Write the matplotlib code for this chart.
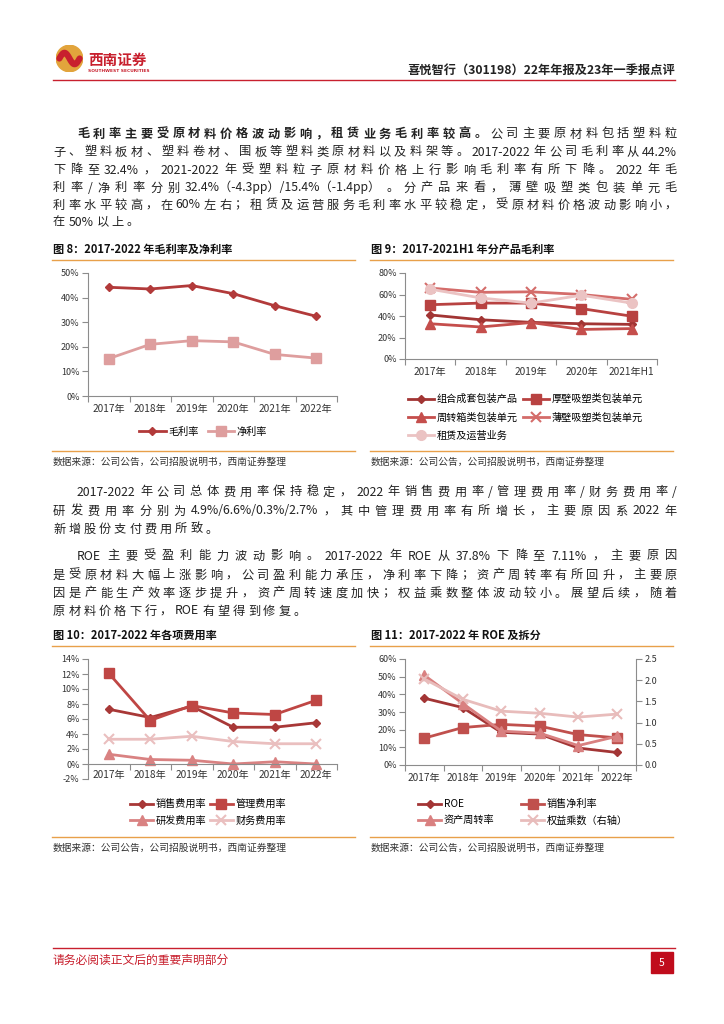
import matplotlib
matplotlib.use('Agg')
import matplotlib.pyplot as plt
import numpy as np
from matplotlib.patches import Rectangle, Circle

plt.rcParams['font.family'] = ['Noto Sans CJK SC', 'DejaVu Sans']
plt.rcParams['axes.unicode_minus'] = False

# ---- data ----
years6 = ['2017年', '2018年', '2019年', '2020年', '2021年', '2022年']
gross_margin = [44.2, 43.5, 44.9, 41.6, 36.7, 32.4]
net_margin = [15.2, 21.0, 22.5, 22.0, 16.9, 15.4]

years9 = ['2017年', '2018年', '2019年', '2020年', '2021年H1']
combo_pack = [41.0, 36.5, 34.1, 32.8, 32.2]
thick_pack = [50.5, 52.0, 52.0, 46.9, 39.8]
box_pack = [32.8, 29.8, 33.9, 27.5, 28.3]
thin_pack = [66.0, 62.0, 62.5, 60.0, 55.5]
lease_ops = [65.0, 56.8, 52.0, 59.3, 52.0]

sales_exp = [7.3, 6.2, 7.7, 4.9, 4.9, 5.5]
admin_exp = [12.1, 5.8, 7.8, 6.8, 6.6, 8.5]
rd_exp = [1.3, 0.6, 0.5, 0.0, 0.3, 0.0]
fin_exp = [3.3, 3.3, 3.7, 3.0, 2.7, 2.7]

roe = [37.8, 32.5, 18.5, 17.5, 9.6, 7.1]
net_margin_roe = [15.2, 21.2, 23.0, 22.0, 17.2, 15.4]
asset_turnover = [50.8, 34.8, 19.2, 18.0, 11.0, 16.2]
equity_mult = [2.03, 1.55, 1.27, 1.22, 1.13, 1.20]

# ---- page setup ----
W, H = 724, 1024
fig = plt.figure(figsize=(W / 100, H / 100), dpi=100)
renderer = fig.canvas.get_renderer()

RED = '#C8202E'
ORANGE = '#E8A04A'


def fx(x):
    return x / W


def fy(y):
    return 1 - y / H


def box(l, t, r, b):
    return [fx(l), fy(b), (r - l) / W, (b - t) / H]


def hline(x0, x1, y, color, lw):
    fig.add_artist(plt.Line2D([fx(x0), fx(x1)], [fy(y), fy(y)], color=color, lw=lw))


def is_wide(c):
    # fullwidth brackets stick to the numbers next to them
    return ord(c) > 0x2E7F and c not in '（）'


def tokens(segs):
    out = []
    for s, w in segs:
        buf = ''
        for c in s:
            if c == ' ':
                if buf:
                    out.append((buf, w))
                    buf = ''
            elif is_wide(c):
                if buf:
                    out.append((buf, w))
                    buf = ''
                out.append((c, w))
            else:
                buf += c
        if buf:
            out.append((buf, w))
    return out


def text_line(x0, y, segs, x1=None, size=8.8, color='#222', gap=3.0):
    toks = tokens(segs)
    objs = [fig.text(0, fy(y + 4.5), t, fontsize=size, fontweight=w, color=color,
                     va='baseline', ha='left') for t, w in toks]
    widths = [o.get_window_extent(renderer).width for o in objs]
    if x1 is not None and len(objs) > 1:
        gap = (x1 - x0 - sum(widths)) / (len(objs) - 1)
    x = x0
    for o, wd in zip(objs, widths):
        o.set_x(fx(x))
        x += wd + gap


# ---- header ----
logo = fig.add_axes(box(56, 45, 83, 72))
logo.set_xlim(-1, 1)
logo.set_ylim(-1, 1)
logo.set_aspect('equal')
logo.axis('off')
logo.add_patch(Circle((0, 0), 0.98, color='#E2A43C'))
t = np.linspace(-0.75, 0.75, 60)
logo.plot(t, 0.42 * np.sin(-np.pi * t / 0.75), color='#C8202E', lw=4.5,
          solid_capstyle='round')
fig.text(fx(88), fy(60), '西南证券', fontsize=10.5, fontweight='bold', color='#C8202E',
         va='center', ha='left')
fig.text(fx(88), fy(70.5), 'SOUTHWEST SECURITIES', fontsize=3.2, fontweight='bold',
         color='#C8202E', va='center', ha='left', family='DejaVu Sans')
fig.text(fx(675), fy(70), '喜悦智行（301198）22年年报及23年一季报点评', fontsize=8.8,
         fontweight='bold', color='#222', va='center', ha='right')
hline(53, 675, 80, RED, 1.0)

# ---- paragraph 1 ----
L, R = 53, 677
text_line(77, 133, [('毛利率主要受原材料价格波动影响，租赁业务毛利率较高。', 'bold'),
                    ('公司主要原材料包括塑料粒', 'normal')], R)
text_line(L, 151, [('子、塑料板材、塑料卷材、围板等塑料类原材料以及料架等。2017-2022年公司毛利率从44.2%', 'normal')], R)
text_line(L, 169, [('下降至 32.4%，2021-2022 年受塑料粒子原材料价格上行影响毛利率有所下降。2022 年毛', 'normal')], R)
text_line(L, 187, [('利率/净利率分别 32.4%（-4.3pp）/15.4%（-1.4pp）。分产品来看，薄壁吸塑类包装单元毛', 'normal')], R)
text_line(L, 204, [('利率水平较高，在 60%左右；租赁及运营服务毛利率水平较稳定，受原材料价格波动影响小，', 'normal')], R)
text_line(L, 221, [('在 50%以上。', 'normal')])

# ---- paragraph 2 / 3 ----
text_line(77, 491, [('2017-2022 年公司总体费用率保持稳定，2022 年销售费用率/管理费用率/财务费用率/', 'normal')], R)
text_line(L, 510, [('研发费用率分别为 4.9%/6.6%/0.3%/2.7%，其中管理费用率有所增长，主要原因系 2022 年', 'normal')], R)
text_line(L, 528, [('新增股份支付费用所致。', 'normal')])
text_line(77, 555, [('ROE 主要受盈利能力波动影响。2017-2022 年 ROE 从 37.8%下降至 7.11%，主要原因', 'normal')], R)
text_line(L, 574, [('是受原材料大幅上涨影响，公司盈利能力承压，净利率下降；资产周转率有所回升，主要原', 'normal')], R)
text_line(L, 592, [('因是产能生产效率逐步提升，资产周转速度加快；权益乘数整体波动较小。展望后续，随着', 'normal')], R)
text_line(L, 610, [('原材料价格下行，ROE 有望得到修复。', 'normal')])

# ---- figure titles / frames ----
SRC = '数据来源：公司公告，公司招股说明书，西南证券整理'
for (x0, x1, ty, ly, sy, title) in [
        (52, 355, 249, 260, 451, '图 8：2017-2022 年毛利率及净利率'),
        (370, 673, 249, 260, 451, '图 9：2017-2021H1 年分产品毛利率'),
        (52, 355, 635, 646, 837, '图 10：2017-2022 年各项费用率'),
        (370, 673, 635, 646, 837, '图 11：2017-2022 年 ROE 及拆分')]:
    fig.text(fx(x0 + 1), fy(ty), title, fontsize=8, fontweight='bold', color='#111',
             va='center', ha='left')
    hline(x0, x1, ly, ORANGE, 1.0)
    hline(x0, x1, sy, ORANGE, 1.0)
    fig.text(fx(x0 + 1), fy(sy + 11), SRC, fontsize=7, color='#333', va='center',
             ha='left', style='italic')

TICK_C = '#333'
AX_C = '#8C8C8C'


def style_axes(ax, cats, ylim, yticks, labels, zero=None, xpad=6):
    n = len(cats)
    if zero is not None:
        ax.spines['bottom'].set_position(('data', zero))
    ax.set_xlim(0, n)
    ax.set_ylim(*ylim)
    ax.set_yticks(yticks)
    ax.set_yticklabels(labels)
    ax.set_xticks(np.arange(n) + 0.5)
    ax.set_xticklabels(cats)
    ax.set_xticks(np.arange(n + 1), minor=True)
    ax.tick_params(axis='x', which='major', length=0, pad=xpad, labelsize=7.3,
                   labelcolor=TICK_C)
    ax.tick_params(axis='x', which='minor', length=4, color=AX_C, width=0.8)
    ax.tick_params(axis='y', length=4, color=AX_C, width=0.8, pad=2, labelsize=6.5,
                   labelcolor=TICK_C)
    for s in ['top', 'right']:
        ax.spines[s].set_visible(False)
    for s in ['left', 'bottom']:
        ax.spines[s].set_color(AX_C)
        ax.spines[s].set_linewidth(0.8)
    ax.patch.set_alpha(0)


def pct(vals):
    return [f'{v:.0f}%' for v in vals]


LEG = dict(frameon=False, fontsize=7.3, borderpad=0, handletextpad=0.25,
           bbox_transform=fig.transFigure)

# ---- chart 8 ----
ax8 = fig.add_axes(box(88, 273, 337, 396))
x6 = np.arange(6) + 0.5
ax8.plot(x6, gross_margin, color='#B23A3A', lw=2.0, marker='D', ms=4.5, label='毛利率')
ax8.plot(x6, net_margin, color='#DE9E9E', lw=2.0, marker='s', ms=7, label='净利率')
style_axes(ax8, years6, (0, 50), np.arange(0, 51, 10), pct(np.arange(0, 51, 10)))
ax8.legend(loc='center', bbox_to_anchor=(fx(203), fy(432)), ncol=2, handlelength=2.6,
           columnspacing=0.9, **LEG)

# ---- chart 9 ----
ax9 = fig.add_axes(box(405, 273, 657, 359))
x5 = np.arange(5) + 0.5
h1, = ax9.plot(x5, combo_pack, color='#A23534', lw=2.0, marker='D', ms=4.5, label='组合成套包装产品')
h2, = ax9.plot(x5, thick_pack, color='#B84241', lw=2.0, marker='s', ms=7, label='厚壁吸塑类包装单元')
h3, = ax9.plot(x5, box_pack, color='#C54E4C', lw=2.0, marker='^', ms=7, label='周转箱类包装单元')
h4, = ax9.plot(x5, thin_pack, color='#D46C6A', lw=2.0, marker='x', ms=7, mew=1.5, label='薄壁吸塑类包装单元')
h5, = ax9.plot(x5, lease_ops, color='#EBC3C3', lw=2.0, marker='o', ms=7, label='租赁及运营业务')
style_axes(ax9, years9, (0, 80), np.arange(0, 81, 20), pct(np.arange(0, 81, 20)))
ax9.legend(handles=[h1, h3, h5, h2, h4], loc='upper left', bbox_to_anchor=(fx(403), fy(389)),
           ncol=2, handlelength=2.6, columnspacing=0.5, labelspacing=0.8, **LEG)

# ---- chart 10 ----
ax10 = fig.add_axes(box(88, 659, 337, 779))
g1, = ax10.plot(x6, sales_exp, color='#A83837', lw=2.0, marker='D', ms=4.5, label='销售费用率')
g2, = ax10.plot(x6, admin_exp, color='#BF4644', lw=2.0, marker='s', ms=7, label='管理费用率')
g3, = ax10.plot(x6, rd_exp, color='#D98282', lw=2.0, marker='^', ms=7, label='研发费用率')
g4, = ax10.plot(x6, fin_exp, color='#EABFBF', lw=2.0, marker='x', ms=7, mew=1.5, label='财务费用率')
style_axes(ax10, years6, (-2, 14), np.arange(-2, 15, 2), pct(np.arange(-2, 15, 2)),
           zero=0, xpad=4)
ax10.legend(handles=[g1, g3, g2, g4], loc='upper left', bbox_to_anchor=(fx(125), fy(794)),
            ncol=2, handlelength=2.3, columnspacing=0.3, labelspacing=0.6, **LEG)

# ---- chart 11 ----
ax11 = fig.add_axes(box(405, 659, 636, 765))
ax11b = ax11.twinx()
k1, = ax11.plot(x6, roe, color='#A33535', lw=2.0, marker='D', ms=4.5, label='ROE')
k2, = ax11.plot(x6, net_margin_roe, color='#C0504D', lw=2.0, marker='s', ms=7, label='销售净利率')
k3, = ax11.plot(x6, asset_turnover, color='#D98080', lw=2.0, marker='^', ms=7, label='资产周转率')
k4, = ax11b.plot(x6, equity_mult, color='#E8BCBB', lw=2.0, marker='x', ms=7, mew=1.5, label='权益乘数（右轴）')
style_axes(ax11, years6, (0, 60), np.arange(0, 61, 10), pct(np.arange(0, 61, 10)))
ax11b.set_ylim(0, 2.5)
ax11b.set_yticks(np.arange(0, 2.51, 0.5))
ax11b.set_yticklabels([f'{v:.1f}' for v in np.arange(0, 2.51, 0.5)])
ax11b.tick_params(axis='y', length=4, color=AX_C, width=0.8, pad=2, labelsize=6.5,
                  labelcolor=TICK_C)
for s in ['top', 'left', 'bottom']:
    ax11b.spines[s].set_visible(False)
ax11b.spines['right'].set_color(AX_C)
ax11b.spines['right'].set_linewidth(0.8)
ax11.legend(handles=[k1, k3, k2, k4], loc='upper left',
            bbox_to_anchor=(fx(413), fy(794)), ncol=2, handlelength=2.3,
            columnspacing=2.6, labelspacing=0.6, **LEG)

# ---- footer ----
hline(53, 675, 948, RED, 1.0)
fig.text(fx(53), fy(960), '请务必阅读正文后的重要声明部分', fontsize=8.5, color=RED,
         va='center', ha='left')
fig.add_artist(Rectangle((fx(651), fy(973)), 22 / W, 21 / H, transform=fig.transFigure,
                         color='#C00C1C'))
fig.text(fx(662), fy(962.5), '5', fontsize=7.5, color='white', va='center', ha='center')

fig.savefig('out.png', dpi=100)
